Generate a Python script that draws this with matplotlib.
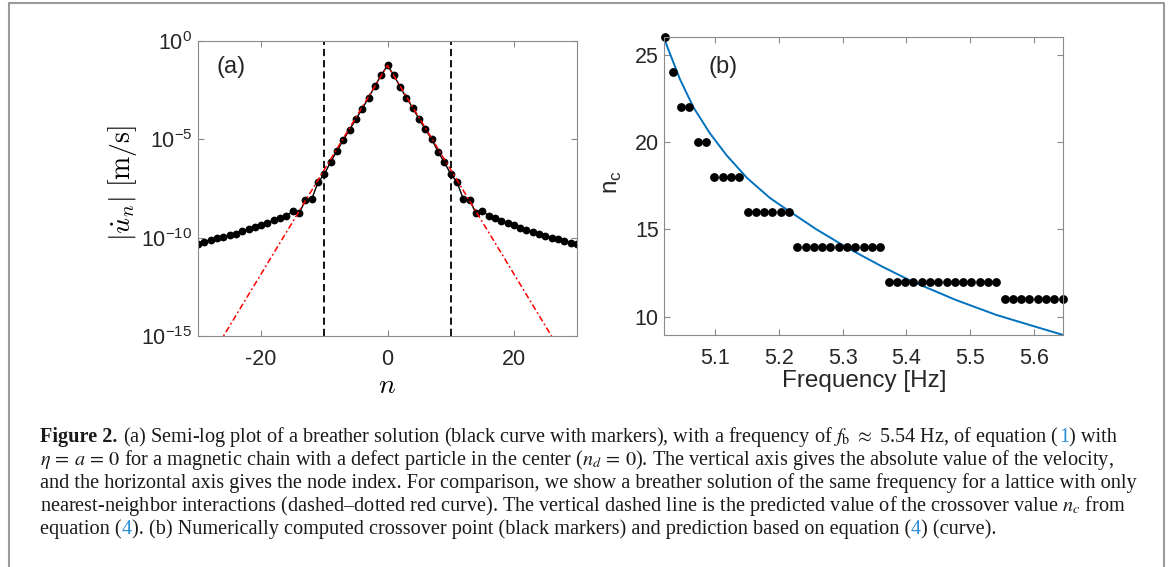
import numpy as np
import matplotlib
matplotlib.use('Agg')
import matplotlib.pyplot as plt
from matplotlib.lines import Line2D
from matplotlib.ticker import NullLocator

W, H = 1171, 567

# (a) breather profile, log10 |u_n| for n = -30..30
n_nodes = np.arange(-30, 31)
log_u = [-10.34, -10.23, -10.12, -10.04, -9.97, -9.87, -9.79, -9.65, -9.58, -9.48,
         -9.36, -9.24, -9.11, -9.02, -8.90, -8.63, -8.77, -8.09, -8.04, -7.19,
         -6.77, -6.15, -5.59, -5.04, -4.50, -3.98, -3.44, -2.89, -2.29, -1.74,
         -1.24,
         -1.74, -2.34, -2.90, -3.40, -3.98, -4.49, -4.99, -5.63, -6.17, -6.76,
         -7.18, -8.03, -8.08, -8.76, -8.64, -8.88, -8.98, -9.13, -9.27, -9.37,
         -9.51, -9.61, -9.69, -9.83, -9.91, -10.02, -10.08, -10.15, -10.25, -10.34]
# nearest-neighbour breather (straight in semi-log)
n_nn = [-30, 0, 30]
log_nn = [-17.14, -1.24, -17.14]
# predicted crossover
n_cross = [-10, 10]

# (b) crossover point vs frequency
freq = [5.021, 5.034, 5.047, 5.060, 5.073, 5.086, 5.099, 5.112, 5.125, 5.138,
        5.151, 5.164, 5.177, 5.190, 5.203, 5.216, 5.229, 5.242, 5.255, 5.268,
        5.281, 5.294, 5.307, 5.320, 5.333, 5.346, 5.359, 5.372, 5.385, 5.398,
        5.411, 5.424, 5.437, 5.450, 5.463, 5.476, 5.489, 5.502, 5.515, 5.528,
        5.541, 5.554, 5.567, 5.580, 5.593, 5.606, 5.619, 5.632, 5.645]
nc = [26, 24, 22, 22, 20, 20, 18, 18, 18, 18,
      16, 16, 16, 16, 16, 16, 14, 14, 14, 14,
      14, 14, 14, 14, 14, 14, 14, 12, 12, 12,
      12, 12, 12, 12, 12, 12, 12, 12, 12, 12,
      12, 11, 11, 11, 11, 11, 11, 11, 11]
f_pred = [5.0205, 5.045, 5.066, 5.092, 5.118, 5.150, 5.186, 5.216, 5.259, 5.307,
          5.363, 5.410, 5.478, 5.541, 5.600, 5.646]
nc_pred = [25.9, 23.6, 22.0, 20.5, 19.25, 17.95, 16.8, 16.05, 15.0, 13.95,
           12.85, 12.0, 10.95, 10.1, 9.45, 8.95]

plt.rcParams['font.family'] = ['Liberation Sans', 'DejaVu Sans']
plt.rcParams['axes.unicode_minus'] = False

fig = plt.figure(figsize=(W / 100, H / 100), dpi=100)
ax1 = fig.add_axes([198 / W, 1 - 336 / H, 379 / W, 295 / H])
ax2 = fig.add_axes([664.3 / W, 1 - 335 / H, 399 / W, 297.7 / H])


def matlab_style(ax):
    for s in ax.spines.values():
        s.set_color('#8a8a8a')
        s.set_linewidth(0.8)
    ax.tick_params(direction='in', top=True, right=True, length=4, width=0.8,
                   color='#8a8a8a', labelsize=15.5, labelcolor='#262626')
    ax.tick_params(axis='x', pad=9.5)
    ax.tick_params(axis='y', pad=4)


# panel (a)
ax1.semilogy(n_nodes, 10.0 ** np.array(log_u), '-o', color='k', lw=1, ms=4.6)
ax1.semilogy(n_nn, 10.0 ** np.array(log_nn), color='red', lw=1.1,
             ls=(0, (4, 1.8, 1.2, 1.8)))
for xc in n_cross:
    ax1.axvline(xc, color='k', lw=1.3, ls=(0, (4, 2.2)))
ax1.set_xlim(-30, 30)
ax1.set_ylim(1e-15, 1)
ax1.set_xticks([-20, 0, 20])
ax1.set_yticks([1, 1e-5, 1e-10, 1e-15])
ax1.yaxis.set_minor_locator(NullLocator())
matlab_style(ax1)
ax1.set_xlabel('$n$', fontsize=20, math_fontfamily='cm')
ax1.xaxis.set_label_coords(0.5, -0.17)
ax1.xaxis.label.set_va('center')
ax1.set_ylabel(r'$|\dot{u}_n|\ [\mathrm{m/s}]$', fontsize=20, math_fontfamily='cm')
ax1.yaxis.set_label_coords(-0.20, 0.52)
ax1.yaxis.label.set_va('center')
ax1.text(0.05, 0.912, '(a)', transform=ax1.transAxes, fontsize=17,
         va='center', ha='left', color='#262626')

# panel (b)
ax2.plot(f_pred, nc_pred, color='#0072BD', lw=1.4)
ax2.plot(freq, nc, 'o', color='k', ms=5.3, clip_on=False)
ax2.set_xlim(5.0205, 5.646)
ax2.set_ylim(8.95, 26.0)
ax2.set_xticks([5.1, 5.2, 5.3, 5.4, 5.5, 5.6])
ax2.set_yticks([10, 15, 20, 25])
matlab_style(ax2)
ax2.set_xlabel('Frequency [Hz]', fontsize=17.5, color='#262626')
ax2.xaxis.set_label_coords(0.5, -0.155)
ax2.xaxis.label.set_va('center')
ax2.set_ylabel(r'n$_\mathregular{c}$', fontsize=17.5, color='#262626')
ax2.yaxis.set_label_coords(-0.129, 0.514)
ax2.yaxis.label.set_va('center')
ax2.text(0.11, 0.90, '(b)', transform=ax2.transAxes, fontsize=17,
         va='center', ha='left', color='#262626')

# caption
blue = '#2b8fd6'
cap_lines = [
    [('Figure 2.', {'weight': 'bold'}), (None, {}),
     (r'(a) Semi-log plot of a breather solution (black curve with markers), with a frequency of '
      r'$f_\mathrm{b}$ $\approx$ 5.54 Hz, of equation (', {}),
     ('1', {'color': blue}), (') with', {})],
    [(r'$\eta\, =\, a\, =\, 0$ for a magnetic chain with a defect particle in the center '
      r'($n_d\, =\, 0$). The vertical axis gives the absolute value of the velocity,', {})],
    [('and the horizontal axis gives the node index. For comparison, we show a breather '
      'solution of the same frequency for a lattice with only', {})],
    [('nearest-neighbor interactions (dashed\u2013dotted red curve). The vertical dashed line '
      r'is the predicted value of the crossover value $n_c$ from', {})],
    [('equation (', {}), ('4', {'color': blue}),
     ('). (b) Numerically computed crossover point (black markers) and prediction based on '
      'equation (', {}),
     ('4', {'color': blue}), (') (curve).', {})],
]

renderer = fig.canvas.get_renderer()
probe = fig.text(0, 0, cap_lines[2][0][0], fontsize=13, family='Liberation Serif')
fs = 13 * 1093 / probe.get_window_extent(renderer).width
probe.remove()

x_left, y_first, line_gap = 40, 442, 23
for i, pieces in enumerate(cap_lines):
    x = x_left
    y = 1 - (y_first + i * line_gap) / H
    for txt, kw in pieces:
        if txt is None:
            x += fs * 0.3 * 100 / 72
            continue
        t = fig.text(x / W, y, txt, fontsize=fs, family='Liberation Serif',
                     math_fontfamily='stix', va='baseline', ha='left',
                     color=kw.get('color', '#1a1a1a'), weight=kw.get('weight', 'normal'))
        x = t.get_window_extent(renderer).x1

# frame round the figure
fig.add_artist(Line2D([9 / W, 9 / W, 1164 / W, 1164 / W], [0, 1 - 3 / H, 1 - 3 / H, 0],
                      color='#9a9a9a', lw=1.5, transform=fig.transFigure))

fig.savefig('out.png', dpi=100)
